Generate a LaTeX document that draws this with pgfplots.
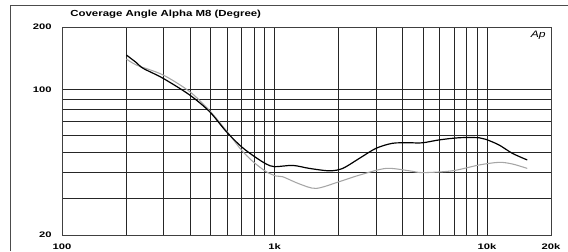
\documentclass[border=0pt]{standalone}
\usepackage{fontspec}
\setmainfont{Liberation Sans}
\usepackage{pgfplots}
\pgfplotsset{compat=1.18}
\begin{document}
\begin{tikzpicture}
\useasboundingbox (0,0) rectangle (426pt,188.25pt);
% outer frame (left and top)
\draw[black!70, line width=0.6pt] (7.5pt,0pt) -- (7.5pt,184.5pt) -- (426pt,184.5pt);
\begin{axis}[
  at={(46.5pt,12pt)}, anchor=south west,
  scale only axis, width=366.75pt, height=156pt,
  xmode=log, ymode=log,
  xmin=100, xmax=20000, ymin=20, ymax=200,
  xtick={100,1000,10000,20000}, xticklabels={100,1k,10k,20k},
  ytick={20,100,200}, yticklabels={20,100,200},
  minor xtick={200,300,400,500,600,700,800,900,2000,3000,4000,5000,6000,7000,8000,9000},
  minor ytick={30,40,50,60,70,80,90},
  major tick length=0pt, minor tick length=0pt,
  grid=both,
  major grid style={black!85, line width=0.6pt},
  minor grid style={black!85, line width=0.6pt},
  axis line style={black!75, line width=0.6pt},
  tick label style={font=\fontsize{6}{7}\selectfont\bfseries, xscale=1.4},
  xticklabel style={yshift=-3pt},
  yticklabel style={xshift=-2pt},
  log basis x=10, log basis y=10,
  clip=true,
]
\addplot[gray!70, line width=0.8pt, smooth] coordinates {
(201,140.4) (224,131.3) (299,117.6) (399,97.8) (495,79.2) (593,63.5) (698,51.3) (791,45.1) (914,40.3) (1019,38.4) (1094,38.1) (1310,35.2) (1570,33.5) (2018,36.1) (2507,38.8) (3345,41.8) (4303,40.7) (4969,39.9) (6870,40.7) (9160,43.4) (11380,44.7) (13150,43.9) (15460,41.8)
};
\addplot[black, line width=0.9pt, smooth] coordinates {
(201,146.6) (224,134.7) (241,126.5) (299,113.3) (399,94.2) (495,78.3) (593,62.8) (698,53.2) (806,47.6) (914,43.9) (1000,42.6) (1219,43.2) (1459,41.8) (1813,40.7) (2093,41.8) (2507,46.7) (3003,52.2) (3593,55.2) (4303,55.5) (4969,55.5) (5952,57.3) (7390,58.7) (9160,58.7) (9860,57.7) (11380,54.2) (13150,49.4) (15460,45.9)
};
\end{axis}
\node[anchor=west, font=\fontsize{6.6}{8}\selectfont\bfseries, xscale=1.3, inner sep=0pt] at (52.5pt,177.75pt) {Coverage Angle Alpha M8 (Degree)};
\node[anchor=east, font=\fontsize{7}{8}\selectfont\itshape, xscale=1.3, inner sep=0pt] at (409.5pt,162pt) {Ap};
\end{tikzpicture}
\end{document}
